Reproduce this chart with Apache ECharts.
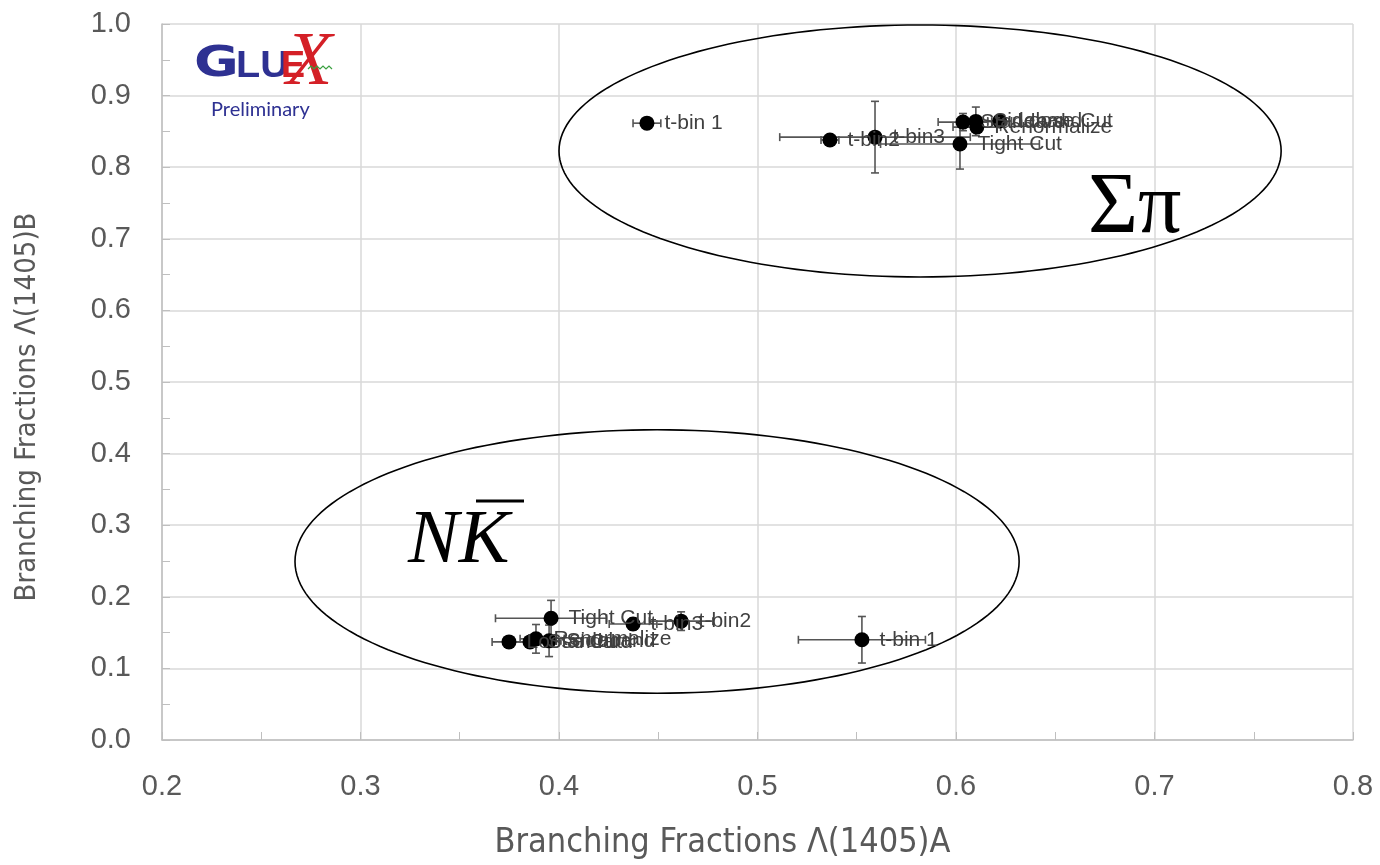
<!DOCTYPE html>
<html>
<head>
<meta charset="utf-8">
<title>Branching Fractions Λ(1405)</title>
<script src="https://cdn.jsdelivr.net/npm/echarts@6/dist/echarts.min.js"></script>
<style>
  html, body { margin: 0; padding: 0; background: #ffffff; }
  #chart { width: 1380px; height: 865px; }
</style>
</head>
<body>
<div id="chart"></div>
<script>
// Σπ decay channel: branching fraction A vs B for each systematic variation
const sigmaPiLabels = ['t-bin 1', 't-bin2', 't-bin3', 'Tight Cut', 'Standard', 'Sideband', 'Loose Cut', 'Renormalize'];
const sigmaPiA      = [0.4443, 0.5365, 0.5592, 0.6020, 0.6035, 0.6100, 0.6220, 0.6105];
const sigmaPiB      = [0.8615, 0.8380, 0.8420, 0.8324, 0.8630, 0.8640, 0.8645, 0.8560];
const sigmaPiAErr   = [0.0070, 0.0045, 0.0480, 0.0400, 0.0125, 0.0080, 0.0060, 0.0120];
const sigmaPiBErr   = [0.0040, 0.0040, 0.0500, 0.0350, 0.0120, 0.0200, 0.0050, 0.0060];

// N K̄ decay channel
const nkLabels = ['t-bin 1', 't-bin2', 't-bin3', 'Tight Cut', 'Loose Cut', 'Standard', 'Renormalize', 'Sideband'];
const nkA      = [0.5526, 0.4615, 0.4373, 0.3960, 0.3748, 0.3854, 0.3884, 0.3950];
const nkB      = [0.1400, 0.1660, 0.1620, 0.1700, 0.1370, 0.1370, 0.1413, 0.1385];
const nkAErr   = [0.0320, 0.0160, 0.0120, 0.0280, 0.0085, 0.0100, 0.0080, 0.0060];
const nkBErr   = [0.0325, 0.0130, 0.0080, 0.0250, 0.0060, 0.0050, 0.0200, 0.0220];

// Channel outlines (centre A, centre B, half-width, half-height) in axis units
const sigmaPiOutline = [0.5819, 0.8227, 0.1819, 0.1760];
const nkOutline      = [0.4494, 0.2493, 0.1824, 0.1840];

// Axis ranges and tick labels
const xTickValues = [0.2, 0.3, 0.4, 0.5, 0.6, 0.7, 0.8];
const yTickValues = [0.0, 0.1, 0.2, 0.3, 0.4, 0.5, 0.6, 0.7, 0.8, 0.9, 1.0];

const xName = 'Branching Fractions Λ(1405)A';
const yName = 'Branching Fractions Λ(1405)B';

function rows(labels, a, b, ea, eb) {
  return labels.map((n, i) => ({ name: n, value: [a[i], b[i], ea[i], eb[i]] }));
}
const allRows = rows(sigmaPiLabels, sigmaPiA, sigmaPiB, sigmaPiAErr, sigmaPiBErr)
  .concat(rows(nkLabels, nkA, nkB, nkAErr, nkBErr));

const GRID_GRAY = '#d9d9d9';
const TEXT_GRAY = '#595959';
const BAR_GRAY = '#555555';
const NARROW = '"Liberation Sans Narrow", "DejaVu Sans Condensed", "Liberation Sans", sans-serif';

function renderErrorBars(params, api) {
  const x = api.value(0), y = api.value(1), ex = api.value(2), ey = api.value(3);
  const l = api.coord([x - ex, y]), r = api.coord([x + ex, y]);
  const t = api.coord([x, y + ey]), b = api.coord([x, y - ey]);
  const cap = 4;
  const style = { stroke: BAR_GRAY, lineWidth: 1.6 };
  const seg = (x1, y1, x2, y2) => ({ type: 'line', shape: { x1, y1, x2, y2 }, style });
  return {
    type: 'group',
    children: [
      seg(l[0], l[1], r[0], r[1]),
      seg(l[0], l[1] - cap, l[0], l[1] + cap),
      seg(r[0], r[1] - cap, r[0], r[1] + cap),
      seg(t[0], t[1], b[0], b[1]),
      seg(t[0] - cap, t[1], t[0] + cap, t[1]),
      seg(b[0] - cap, b[1], b[0] + cap, b[1])
    ]
  };
}

function renderOutline(params, api) {
  const cx = api.value(0), cy = api.value(1), rx = api.value(2), ry = api.value(3);
  const pts = [];
  for (let k = 0; k < 180; k++) {
    const t = (k / 180) * Math.PI * 2;
    pts.push(api.coord([cx + rx * Math.cos(t), cy + ry * Math.sin(t)]));
  }
  return {
    type: 'polygon',
    shape: { points: pts },
    style: { stroke: '#000000', lineWidth: 1.6, fill: 'none' },
    silent: true
  };
}

const chart = echarts.init(document.getElementById('chart'));

chart.setOption({
  backgroundColor: '#ffffff',
  animation: false,
  grid: { left: 162, right: 27, top: 24, bottom: 119, containLabel: false },
  xAxis: {
    type: 'value',
    min: xTickValues[0],
    max: xTickValues[xTickValues.length - 1],
    interval: 0.1,
    name: xName,
    nameLocation: 'middle',
    nameGap: 86,
    nameTextStyle: { color: TEXT_GRAY, fontSize: 34, fontFamily: NARROW, padding: [0, 70, 0, 0] },
    axisLine: { show: true, lineStyle: { color: '#bfbfbf', width: 1.5 } },
    axisTick: { show: true, inside: true, length: 8, lineStyle: { color: '#bfbfbf' } },
    minorTick: { show: true, splitNumber: 2, length: 8, lineStyle: { color: '#bfbfbf' } },
    splitLine: { show: true, lineStyle: { color: GRID_GRAY, width: 1.5 } },
    axisLabel: {
      color: TEXT_GRAY, fontSize: 29, margin: 32,
      fontFamily: 'Liberation Sans, Arial, sans-serif',
      formatter: v => Number(v).toFixed(1)
    }
  },
  yAxis: {
    type: 'value',
    min: yTickValues[0],
    max: yTickValues[yTickValues.length - 1],
    interval: 0.1,
    name: yName,
    nameLocation: 'middle',
    nameGap: 120,
    nameTextStyle: { color: TEXT_GRAY, fontSize: 29, fontFamily: NARROW, padding: [0, 50, 0, 0] },
    axisLine: { show: true, lineStyle: { color: '#bfbfbf', width: 1.5 } },
    axisTick: { show: true, inside: true, length: 8, lineStyle: { color: '#bfbfbf' } },
    minorTick: { show: true, splitNumber: 2, length: 8, lineStyle: { color: '#bfbfbf' } },
    splitLine: { show: true, lineStyle: { color: GRID_GRAY, width: 1.5 } },
    axisLabel: {
      color: TEXT_GRAY, fontSize: 29, margin: 31,
      fontFamily: 'Liberation Sans, Arial, sans-serif',
      formatter: v => Number(v).toFixed(1)
    }
  },
  series: [
    {
      type: 'custom',
      name: 'outlines',
      renderItem: renderOutline,
      data: [sigmaPiOutline, nkOutline],
      z: 1,
      silent: true
    },
    {
      type: 'custom',
      name: 'errors',
      renderItem: renderErrorBars,
      data: allRows,
      z: 2,
      silent: true
    },
    {
      type: 'scatter',
      name: 'points',
      data: allRows,
      symbol: 'circle',
      symbolSize: 15,
      itemStyle: { color: '#000000', opacity: 1 },
      label: {
        show: true,
        position: 'right',
        distance: 10,
        formatter: p => p.name,
        color: '#404040',
        fontSize: 21,
        fontFamily: 'Liberation Sans, Arial, sans-serif'
      },
      labelLayout: { hideOverlap: false },
      z: 3
    }
  ],
  graphic: [
    // channel names
    {
      type: 'text', left: 1088, top: 166, z: 10,
      style: { text: 'Σπ', fill: '#000000', font: '86px "Liberation Serif", "DejaVu Serif", serif' }
    },
    {
      type: 'text', left: 408, top: 504, z: 10,
      style: { text: 'NK', fill: '#000000', font: 'italic 76px "Liberation Serif", "DejaVu Serif", serif' }
    },
    {
      type: 'line', z: 10,
      shape: { x1: 476, y1: 501, x2: 524, y2: 501 },
      style: { stroke: '#000000', lineWidth: 3 }
    },
    // GlueX logo block
    {
      type: 'group', left: 186, top: 26, z: 20,
      children: [
        { type: 'rect', shape: { x: 0, y: 0, width: 160, height: 94 }, style: { fill: '#ffffff' } },
        { type: 'text', x: 8, y: 12, scaleX: 1.3, style: { text: 'G', fill: '#2e3192', font: 'bold 42px "DejaVu Sans", sans-serif' } },
        { type: 'text', x: 50, y: 17, scaleX: 1.1, style: { text: 'LU', fill: '#2e3192', font: 'bold 36px "Liberation Sans", sans-serif' } },
        { type: 'text', x: 95, y: 17, style: { text: 'E', fill: '#d42027', font: 'bold 36px "Liberation Sans", sans-serif' } },
        { type: 'text', x: 100, y: -6, style: { text: 'X', fill: '#d42027', font: 'italic 76px "Liberation Serif", serif' } },
        {
          type: 'polyline',
          shape: { points: [[122, 37], [125, 34], [128, 37], [131, 34], [134, 37], [137, 34], [140, 37], [143, 34], [146, 37]] },
          style: { stroke: '#3aa040', lineWidth: 1.2, fill: 'none' }
        },
        { type: 'text', x: 25, y: 68, style: { text: 'Preliminary', fill: '#2e3192', font: '20px "Lato", "Noto Sans", sans-serif' } }
      ]
    }
  ]
});
</script>
</body>
</html>
